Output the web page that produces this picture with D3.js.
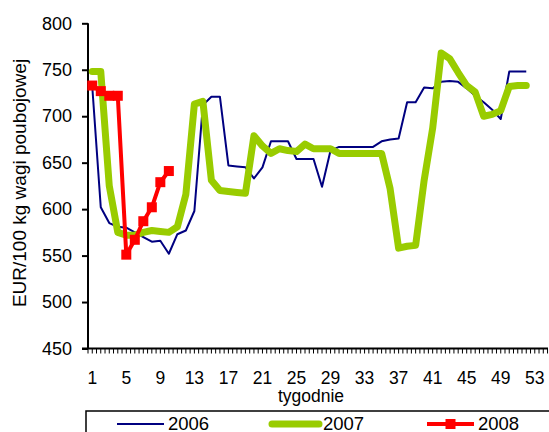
<!DOCTYPE html>
<html><head><meta charset="utf-8">
<script src="https://cdn.jsdelivr.net/npm/d3@7"></script>
<style>body{margin:0;background:#fff}svg{display:block}text{font-family:"Liberation Sans",Arial,sans-serif;fill:#000}</style>
</head><body><svg id="c" width="549" height="432"></svg>
<script>
const weeks = d3.range(1, 55);
const tickLabels = [1,5,9,13,17,21,25,29,33,37,41,45,49,53];
const yTicks = [450,500,550,600,650,700,750,800];
const s2006 = [732,602,585,581,580,575,570,565,566,552,573,577,598,712,721,721,647,646,645,633,645,673,673,673,654,654,654,624,663,667,667,667,667,667,673,675,676,715,715,731,730,737,738,737,730,722,715,707,697,748,748,748];
const s2007 = [748,748,625,575,572,572,575,577,576,575,581,616,713,716,631,620,619,618,617,679,668,660,665,663,662,670,665,665,665,660,660,660,660,660,660,622,558,560,561,631,687,768,762,747,733,726,700,702,706,732,733,733];
const s2008 = [733,727,722,722,551,567,587,602,629,641];
const seriesNames = ["2006","2007","2008"];

const svg = d3.select("#c");
const x = d3.scaleBand().domain(weeks).range([88, 88 + 54*8.51]);
const y = d3.scaleLinear().domain([450, 800]).range([348.5, 23.3]);
const cx = d => x(d) + x.bandwidth()/2;

// y axis
const yAxis = d3.axisLeft(y).tickValues(yTicks).tickSize(6).tickPadding(10);
const gy = svg.append("g").attr("transform","translate(88,0)").call(yAxis);
gy.select(".domain").attr("stroke","#000").attr("stroke-width",2).attr("d","M0,23.3V348.5");
gy.selectAll(".tick line").attr("stroke","#000").attr("stroke-width",2);
gy.selectAll(".tick text").style("font-size","18px").attr("fill","#000");

// x axis
const xb = d3.scaleLinear().domain([0,108]).range([88, 88 + 54*8.51]);
const gx = svg.append("g").attr("transform","translate(0,348.5)");
gx.append("line").attr("x1",82).attr("x2",548).attr("stroke","#000").attr("stroke-width",2);
gx.selectAll("line.t").data(d3.range(0,109)).enter().append("line").attr("class","t")
  .attr("x1",d=>xb(d)).attr("x2",d=>xb(d)).attr("y1",0).attr("y2",5).attr("stroke","#000").attr("stroke-width",1);
gx.selectAll("text").data(tickLabels).enter().append("text")
  .attr("x",d=>cx(d)).attr("y",35).attr("text-anchor","middle").style("font-size","17.5px").text(d=>d);
svg.append("text").attr("x",311).attr("y",401.5).attr("text-anchor","middle").style("font-size","17.5px").text("tygodnie");
svg.append("text").attr("transform","translate(26,183) rotate(-90)").attr("text-anchor","middle").style("font-size","19px").text("EUR/100 kg wagi poubojowej");

const line = d3.line().x((d,i)=>cx(weeks[i])).y(d=>y(d));
svg.append("path").datum(s2006).attr("d",line).attr("fill","none").attr("stroke","#000080").attr("stroke-width",2).attr("stroke-linejoin","round");
svg.append("path").datum(s2007).attr("d",line).attr("fill","none").attr("stroke","#99CC00").attr("stroke-width",7).attr("stroke-linejoin","round").attr("stroke-linecap","round");
svg.append("path").datum(s2008).attr("d",line).attr("fill","none").attr("stroke","#FF0000").attr("stroke-width",4).attr("stroke-linejoin","round");
svg.selectAll("rect.m").data(s2008).enter().append("rect").attr("class","m")
  .attr("x",(d,i)=>cx(weeks[i])-5).attr("y",d=>y(d)-5).attr("width",10).attr("height",10).attr("fill","#FF0000");

// legend
const lg = svg.append("g");
lg.append("rect").attr("x",86).attr("y",411).attr("width",480).attr("height",40).attr("fill","none").attr("stroke","#000").attr("stroke-width",1.5);
const lx = [117, 272, 427];
const styles = [{c:"#000080",w:2,cap:"butt"},{c:"#99CC00",w:7,cap:"round"},{c:"#FF0000",w:4,cap:"butt"}];
seriesNames.forEach((n,i)=>{
  lg.append("line").attr("x1",lx[i]).attr("x2",lx[i]+47).attr("y1",424).attr("y2",424)
    .attr("stroke",styles[i].c).attr("stroke-width",styles[i].w).attr("stroke-linecap",styles[i].cap);
  if(i===2) lg.append("rect").attr("x",lx[i]+23.5-5).attr("y",419).attr("width",10).attr("height",10).attr("fill","#FF0000");
  lg.append("text").attr("x",lx[i]+51).attr("y",430).style("font-size","18.5px").text(n);
});
</script></body></html>
